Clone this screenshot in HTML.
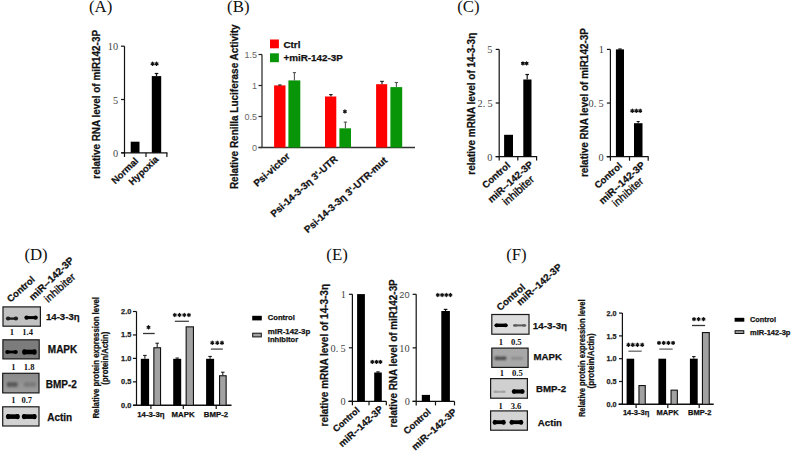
<!DOCTYPE html>
<html><head><meta charset="utf-8"><style>
html,body{margin:0;padding:0;background:#fff;}
svg{display:block;}
</style></head><body>
<svg width="793" height="454" viewBox="0 0 793 454">
<defs><filter id="bl" x="-30%" y="-100%" width="160%" height="300%"><feGaussianBlur stdDeviation="0.7"/></filter><filter id="bl2" x="-30%" y="-100%" width="160%" height="300%"><feGaussianBlur stdDeviation="1.1"/></filter></defs>
<rect width="793" height="454" fill="#fff"/>
<text x="89.0" y="11.9" font-family="Liberation Serif" font-size="16.8" font-weight="normal" fill="#111" text-anchor="start" >(A)</text>
<text x="227.1" y="12.3" font-family="Liberation Serif" font-size="16.8" font-weight="normal" fill="#111" text-anchor="start" >(B)</text>
<text x="457.2" y="11.6" font-family="Liberation Serif" font-size="16.8" font-weight="normal" fill="#111" text-anchor="start" >(C)</text>
<text x="24.4" y="260.0" font-family="Liberation Serif" font-size="16.8" font-weight="normal" fill="#111" text-anchor="start" >(D)</text>
<text x="326.3" y="259.6" font-family="Liberation Serif" font-size="16.8" font-weight="normal" fill="#111" text-anchor="start" >(E)</text>
<text x="506.2" y="260.0" font-family="Liberation Serif" font-size="16.8" font-weight="normal" fill="#111" text-anchor="start" >(F)</text>
<line x1="124.5" y1="46.2" x2="124.5" y2="153.3" stroke="#111" stroke-width="1.2"/>
<line x1="121" y1="46.2" x2="124.5" y2="46.2" stroke="#111" stroke-width="1.2"/>
<line x1="121" y1="99.5" x2="124.5" y2="99.5" stroke="#111" stroke-width="1.2"/>
<line x1="121" y1="152.8" x2="124.5" y2="152.8" stroke="#111" stroke-width="1.2"/>
<line x1="121.4" y1="152.8" x2="167.4" y2="152.8" stroke="#111" stroke-width="1.3"/>
<line x1="124.5" y1="152.8" x2="124.5" y2="157.0" stroke="#111" stroke-width="1.2"/>
<line x1="146" y1="152.8" x2="146" y2="157.0" stroke="#111" stroke-width="1.2"/>
<line x1="166.9" y1="152.8" x2="166.9" y2="157.0" stroke="#111" stroke-width="1.2"/>
<text x="118.15" y="50.1" font-family="Liberation Serif" font-size="10.3" font-weight="normal" fill="#444" text-anchor="end" >10</text>
<text x="118.15" y="103.5" font-family="Liberation Serif" font-size="10.3" font-weight="normal" fill="#444" text-anchor="end" >5</text>
<text x="118.15" y="156.8" font-family="Liberation Serif" font-size="10.3" font-weight="normal" fill="#444" text-anchor="end" >0</text>
<rect x="130.70" y="141.70" width="8.80" height="11.10" fill="#000"/>
<rect x="151.80" y="76.10" width="9.40" height="76.70" fill="#000"/>
<line x1="156.5" y1="76.1" x2="156.5" y2="73.5" stroke="#111" stroke-width="1.2"/>
<line x1="154.7" y1="73.5" x2="158.3" y2="73.5" stroke="#111" stroke-width="1.2"/>
<path d="M152.60,62.22L152.60,65.38M151.24,63.01L153.96,64.59M153.96,63.01L151.24,64.59" stroke="#111" stroke-width="1.26" stroke-linecap="round" fill="none"/>
<path d="M156.60,62.22L156.60,65.38M155.24,63.01L157.96,64.59M157.96,63.01L155.24,64.59" stroke="#111" stroke-width="1.26" stroke-linecap="round" fill="none"/>
<text transform="translate(100.00,104.35) rotate(-90)" x="0" y="0" font-family="Liberation Sans" font-size="10" font-weight="bold" fill="#111" text-anchor="middle" textLength="148.70" lengthAdjust="spacingAndGlyphs" stroke="#111" stroke-width="0.25">relative RNA level of miR142-3P</text>
<text transform="translate(138.96,161.59) rotate(-44)" x="0" y="0" font-family="Liberation Sans" font-size="9.57" font-weight="bold" fill="#111" text-anchor="end" stroke="#111" stroke-width="0.25" >Normal</text>
<text transform="translate(159.20,159.97) rotate(-44)" x="0" y="0" font-family="Liberation Sans" font-size="9.59" font-weight="bold" fill="#111" text-anchor="end" stroke="#111" stroke-width="0.25" >Hypoxia</text>
<line x1="262" y1="54.5" x2="262" y2="148.0" stroke="#222" stroke-width="1.2"/>
<line x1="258.5" y1="147.5" x2="262" y2="147.5" stroke="#222" stroke-width="1.2"/>
<line x1="258.5" y1="116.5" x2="262" y2="116.5" stroke="#222" stroke-width="1.2"/>
<line x1="258.5" y1="85.5" x2="262" y2="85.5" stroke="#222" stroke-width="1.2"/>
<line x1="258.5" y1="54.5" x2="262" y2="54.5" stroke="#222" stroke-width="1.2"/>
<line x1="258.5" y1="147.5" x2="415" y2="147.5" stroke="#333" stroke-width="1.4"/>
<text x="257" y="150.5" font-family="Liberation Sans" font-size="9" font-weight="normal" fill="#666" text-anchor="end" >0</text>
<text x="257" y="119.5" font-family="Liberation Sans" font-size="9" font-weight="normal" fill="#666" text-anchor="end" >0.5</text>
<text x="257" y="88.5" font-family="Liberation Sans" font-size="9" font-weight="normal" fill="#666" text-anchor="end" >1</text>
<text x="257" y="57.5" font-family="Liberation Sans" font-size="9" font-weight="normal" fill="#666" text-anchor="end" >1.5</text>
<rect x="274.10" y="85.40" width="11.40" height="62.10" fill="#ff0000"/>
<line x1="279.9" y1="85.5" x2="279.9" y2="85.0" stroke="#222" stroke-width="1.2"/>
<line x1="278.2" y1="85.0" x2="281.59999999999997" y2="85.0" stroke="#222" stroke-width="1.2"/>
<rect x="288.40" y="80.40" width="11.90" height="67.10" fill="#089608"/>
<line x1="294.4" y1="80.4" x2="294.4" y2="72.6" stroke="#555" stroke-width="1.1"/>
<line x1="292.79999999999995" y1="72.6" x2="296.0" y2="72.6" stroke="#555" stroke-width="1.1"/>
<rect x="325.00" y="96.50" width="11.30" height="51.00" fill="#ff0000"/>
<line x1="330.9" y1="96.5" x2="330.9" y2="94.6" stroke="#222" stroke-width="1.2"/>
<line x1="329.2" y1="94.6" x2="332.59999999999997" y2="94.6" stroke="#222" stroke-width="1.2"/>
<rect x="339.40" y="128.30" width="11.60" height="19.20" fill="#089608"/>
<line x1="345.4" y1="128.3" x2="345.4" y2="122.1" stroke="#555" stroke-width="1.1"/>
<line x1="343.7" y1="122.1" x2="347.09999999999997" y2="122.1" stroke="#555" stroke-width="1.1"/>
<path d="M344.90,109.92L344.90,113.08M343.54,110.71L346.26,112.29M346.26,110.71L343.54,112.29" stroke="#111" stroke-width="1.26" stroke-linecap="round" fill="none"/>
<rect x="376.10" y="84.20" width="11.10" height="63.30" fill="#ff0000"/>
<line x1="382.0" y1="84.2" x2="382.0" y2="81.4" stroke="#222" stroke-width="1.2"/>
<line x1="380.2" y1="81.4" x2="383.8" y2="81.4" stroke="#222" stroke-width="1.2"/>
<rect x="390.40" y="87.10" width="11.80" height="60.40" fill="#089608"/>
<line x1="396.4" y1="87.1" x2="396.4" y2="82.5" stroke="#555" stroke-width="1.1"/>
<line x1="394.7" y1="82.5" x2="398.09999999999997" y2="82.5" stroke="#555" stroke-width="1.1"/>
<rect x="270.00" y="39.50" width="8.90" height="8.80" fill="#ff0000"/>
<rect x="270.00" y="53.30" width="8.90" height="8.90" fill="#089608"/>
<text x="283.4" y="47.8" font-family="Liberation Sans" font-size="9.9" font-weight="bold" fill="#111" text-anchor="start" stroke="#111" stroke-width="0.25" >Ctrl</text>
<text x="283.4" y="61.0" font-family="Liberation Sans" font-size="9.9" font-weight="bold" fill="#111" text-anchor="start" stroke="#111" stroke-width="0.25" >+miR-142-3P</text>
<text transform="translate(237.60,106.75) rotate(-90)" x="0" y="0" font-family="Liberation Sans" font-size="10" font-weight="bold" fill="#111" text-anchor="middle" textLength="164.70" lengthAdjust="spacingAndGlyphs" stroke="#111" stroke-width="0.25">Relative Renilla Luciferase Activity</text>
<text transform="translate(290.60,157.18) rotate(-42)" x="0" y="0" font-family="Liberation Sans" font-size="9.9" font-weight="bold" fill="#111" text-anchor="end" stroke="#111" stroke-width="0.25" >Psi-victor</text>
<text transform="translate(338.24,160.01) rotate(-42)" x="0" y="0" font-family="Liberation Sans" font-size="9.81" font-weight="bold" fill="#111" text-anchor="end" stroke="#111" stroke-width="0.25" >Psi-14-3-3η 3&#39;-UTR</text>
<text transform="translate(388.03,161.35) rotate(-42)" x="0" y="0" font-family="Liberation Sans" font-size="9.85" font-weight="bold" fill="#111" text-anchor="end" stroke="#111" stroke-width="0.25" >Psi-14-3-3η 3&#39;-UTR-mut</text>
<line x1="499.2" y1="49.4" x2="499.2" y2="157.1" stroke="#111" stroke-width="1.2"/>
<line x1="495.7" y1="156.6" x2="499.2" y2="156.6" stroke="#111" stroke-width="1.2"/>
<line x1="495.7" y1="103.0" x2="499.2" y2="103.0" stroke="#111" stroke-width="1.2"/>
<line x1="495.7" y1="49.39999999999999" x2="499.2" y2="49.39999999999999" stroke="#111" stroke-width="1.2"/>
<line x1="495.7" y1="156.6" x2="537.1" y2="156.6" stroke="#111" stroke-width="1.3"/>
<line x1="499.2" y1="156.6" x2="499.2" y2="160.6" stroke="#111" stroke-width="1.2"/>
<line x1="517.8" y1="156.6" x2="517.8" y2="160.6" stroke="#111" stroke-width="1.2"/>
<line x1="536.6" y1="156.6" x2="536.6" y2="160.6" stroke="#111" stroke-width="1.2"/>
<text x="492.45" y="53.4" font-family="Liberation Serif" font-size="10.3" font-weight="normal" fill="#444" text-anchor="end" >5</text>
<text x="480.04999999999995" y="107.05" font-family="Liberation Serif" font-size="10.3" font-weight="normal" fill="#444" text-anchor="middle" >2</text>
<text x="484.0" y="107.05" font-family="Liberation Serif" font-size="10.3" font-weight="normal" fill="#444" text-anchor="middle" >.</text>
<text x="490.05" y="107.05" font-family="Liberation Serif" font-size="10.3" font-weight="normal" fill="#444" text-anchor="middle" >5</text>
<text x="492.45" y="160.6" font-family="Liberation Serif" font-size="10.3" font-weight="normal" fill="#444" text-anchor="end" >0</text>
<rect x="504.10" y="134.80" width="8.90" height="21.80" fill="#000"/>
<rect x="523.30" y="79.50" width="8.20" height="77.10" fill="#000"/>
<line x1="527.2" y1="79.5" x2="527.2" y2="74.5" stroke="#111" stroke-width="1.2"/>
<line x1="525.4000000000001" y1="74.5" x2="529.0" y2="74.5" stroke="#111" stroke-width="1.2"/>
<path d="M522.90,61.82L522.90,64.97M521.54,62.61L524.26,64.19M524.26,62.61L521.54,64.19" stroke="#111" stroke-width="1.26" stroke-linecap="round" fill="none"/>
<path d="M526.60,61.82L526.60,64.97M525.24,62.61L527.96,64.19M527.96,62.61L525.24,64.19" stroke="#111" stroke-width="1.26" stroke-linecap="round" fill="none"/>
<text transform="translate(474.50,103.75) rotate(-90)" x="0" y="0" font-family="Liberation Sans" font-size="10" font-weight="bold" fill="#111" text-anchor="middle" textLength="141.90" lengthAdjust="spacingAndGlyphs" stroke="#111" stroke-width="0.25">relative mRNA level of 14-3-3η</text>
<text transform="translate(510.87,166.27) rotate(-42)" x="0" y="0" font-family="Liberation Sans" font-size="9.56" font-weight="bold" fill="#111" text-anchor="end" stroke="#111" stroke-width="0.25" >Control</text>
<text transform="translate(533.83,165.22) rotate(-42)" x="0" y="0" font-family="Liberation Sans" font-size="9.87" font-weight="bold" fill="#111" text-anchor="end" stroke="#111" stroke-width="0.25" >miR--142-3P</text>
<text transform="translate(534.92,180.36) rotate(-42)" x="0" y="0" font-family="Liberation Sans" font-size="10.89" font-weight="normal" fill="#111" text-anchor="end" stroke="#111" stroke-width="0.35" >inhibiter</text>
<line x1="610.4" y1="49.4" x2="610.4" y2="157.2" stroke="#111" stroke-width="1.2"/>
<line x1="606.9" y1="156.7" x2="610.4" y2="156.7" stroke="#111" stroke-width="1.2"/>
<line x1="606.9" y1="103.05" x2="610.4" y2="103.05" stroke="#111" stroke-width="1.2"/>
<line x1="606.9" y1="49.400000000000006" x2="610.4" y2="49.400000000000006" stroke="#111" stroke-width="1.2"/>
<line x1="606.7" y1="156.7" x2="648.6" y2="156.7" stroke="#111" stroke-width="1.2"/>
<line x1="610.4" y1="156.7" x2="610.4" y2="160.7" stroke="#111" stroke-width="1.2"/>
<line x1="629.5" y1="156.7" x2="629.5" y2="160.7" stroke="#111" stroke-width="1.2"/>
<line x1="648.2" y1="156.7" x2="648.2" y2="160.7" stroke="#111" stroke-width="1.2"/>
<text x="603.9" y="53.4" font-family="Liberation Serif" font-size="10.3" font-weight="normal" fill="#444" text-anchor="end" >1</text>
<text x="591.15" y="107.1" font-family="Liberation Serif" font-size="10.3" font-weight="normal" fill="#444" text-anchor="middle" >0</text>
<text x="595.1" y="107.1" font-family="Liberation Serif" font-size="10.3" font-weight="normal" fill="#444" text-anchor="middle" >.</text>
<text x="601.15" y="107.1" font-family="Liberation Serif" font-size="10.3" font-weight="normal" fill="#444" text-anchor="middle" >5</text>
<text x="603.55" y="160.7" font-family="Liberation Serif" font-size="10.3" font-weight="normal" fill="#444" text-anchor="end" >0</text>
<rect x="615.90" y="49.40" width="8.10" height="107.30" fill="#000"/>
<line x1="620" y1="49.6" x2="620" y2="49.0" stroke="#111" stroke-width="1.2"/>
<line x1="618.3" y1="49.0" x2="621.7" y2="49.0" stroke="#111" stroke-width="1.2"/>
<rect x="634.00" y="123.20" width="8.50" height="33.50" fill="#000"/>
<line x1="638.2" y1="123.2" x2="638.2" y2="121.5" stroke="#111" stroke-width="1"/>
<line x1="636.7" y1="121.5" x2="639.7" y2="121.5" stroke="#111" stroke-width="1"/>
<path d="M632.30,109.22L632.30,112.38M630.94,110.01L633.66,111.59M633.66,110.01L630.94,111.59" stroke="#111" stroke-width="1.26" stroke-linecap="round" fill="none"/>
<path d="M636.30,109.22L636.30,112.38M634.94,110.01L637.66,111.59M637.66,110.01L634.94,111.59" stroke="#111" stroke-width="1.26" stroke-linecap="round" fill="none"/>
<path d="M640.20,109.22L640.20,112.38M638.84,110.01L641.56,111.59M641.56,110.01L638.84,111.59" stroke="#111" stroke-width="1.26" stroke-linecap="round" fill="none"/>
<text transform="translate(587.60,102.60) rotate(-90)" x="0" y="0" font-family="Liberation Sans" font-size="10" font-weight="bold" fill="#111" text-anchor="middle" textLength="148.80" lengthAdjust="spacingAndGlyphs" stroke="#111" stroke-width="0.25">relative RNA level of miR142-3P</text>
<text transform="translate(622.77,166.61) rotate(-42)" x="0" y="0" font-family="Liberation Sans" font-size="9.4" font-weight="bold" fill="#111" text-anchor="end" stroke="#111" stroke-width="0.25" >Control</text>
<text transform="translate(645.66,165.96) rotate(-42)" x="0" y="0" font-family="Liberation Sans" font-size="10.02" font-weight="bold" fill="#111" text-anchor="end" stroke="#111" stroke-width="0.25" >miR--142-3P</text>
<text transform="translate(644.11,182.24) rotate(-42)" x="0" y="0" font-family="Liberation Sans" font-size="10.66" font-weight="normal" fill="#111" text-anchor="end" stroke="#111" stroke-width="0.35" >inhibiter</text>
<line x1="352.4" y1="294.3" x2="352.4" y2="401.8" stroke="#111" stroke-width="1.2"/>
<line x1="348.9" y1="401.3" x2="352.4" y2="401.3" stroke="#111" stroke-width="1.2"/>
<line x1="348.9" y1="347.8" x2="352.4" y2="347.8" stroke="#111" stroke-width="1.2"/>
<line x1="348.9" y1="294.3" x2="352.4" y2="294.3" stroke="#111" stroke-width="1.2"/>
<line x1="348.3" y1="401.3" x2="386.3" y2="401.3" stroke="#111" stroke-width="1.2"/>
<line x1="352.4" y1="401.3" x2="352.4" y2="405.3" stroke="#111" stroke-width="1.2"/>
<line x1="369" y1="401.3" x2="369" y2="405.3" stroke="#111" stroke-width="1.2"/>
<line x1="386.3" y1="401.3" x2="386.3" y2="405.3" stroke="#111" stroke-width="1.2"/>
<text x="345.9" y="298.3" font-family="Liberation Serif" font-size="10.3" font-weight="normal" fill="#444" text-anchor="end" >1</text>
<text x="333.15" y="351.6" font-family="Liberation Serif" font-size="10.3" font-weight="normal" fill="#444" text-anchor="middle" >0</text>
<text x="337.1" y="351.6" font-family="Liberation Serif" font-size="10.3" font-weight="normal" fill="#444" text-anchor="middle" >.</text>
<text x="343.15000000000003" y="351.6" font-family="Liberation Serif" font-size="10.3" font-weight="normal" fill="#444" text-anchor="middle" >5</text>
<text x="345.65" y="405.3" font-family="Liberation Serif" font-size="10.3" font-weight="normal" fill="#444" text-anchor="end" >0</text>
<rect x="357.10" y="294.10" width="7.80" height="107.20" fill="#000"/>
<rect x="374.20" y="372.50" width="7.60" height="28.80" fill="#000"/>
<line x1="378" y1="372.6" x2="378" y2="371.9" stroke="#111" stroke-width="1.2"/>
<line x1="376.3" y1="371.9" x2="379.7" y2="371.9" stroke="#111" stroke-width="1.2"/>
<path d="M372.30,360.32L372.30,363.47M370.94,361.11L373.66,362.69M373.66,361.11L370.94,362.69" stroke="#111" stroke-width="1.26" stroke-linecap="round" fill="none"/>
<path d="M376.50,360.32L376.50,363.47M375.14,361.11L377.86,362.69M377.86,361.11L375.14,362.69" stroke="#111" stroke-width="1.26" stroke-linecap="round" fill="none"/>
<path d="M380.40,360.32L380.40,363.47M379.04,361.11L381.76,362.69M381.76,361.11L379.04,362.69" stroke="#111" stroke-width="1.26" stroke-linecap="round" fill="none"/>
<text transform="translate(328.10,355.25) rotate(-90)" x="0" y="0" font-family="Liberation Sans" font-size="10" font-weight="bold" fill="#111" text-anchor="middle" textLength="142.50" lengthAdjust="spacingAndGlyphs" stroke="#111" stroke-width="0.25">relative mRNA level of 14-3-3η</text>
<text transform="translate(360.27,411.06) rotate(-42)" x="0" y="0" font-family="Liberation Sans" font-size="9.05" font-weight="bold" fill="#111" text-anchor="end" stroke="#111" stroke-width="0.25" >Control</text>
<text transform="translate(383.85,410.02) rotate(-42)" x="0" y="0" font-family="Liberation Sans" font-size="9.69" font-weight="bold" fill="#111" text-anchor="end" stroke="#111" stroke-width="0.25" >miR--142-3P</text>
<line x1="416.2" y1="294.3" x2="416.2" y2="401.9" stroke="#111" stroke-width="1.2"/>
<line x1="412.59999999999997" y1="401.4" x2="416.2" y2="401.4" stroke="#111" stroke-width="1.2"/>
<line x1="412.59999999999997" y1="347.85" x2="416.2" y2="347.85" stroke="#111" stroke-width="1.2"/>
<line x1="412.59999999999997" y1="294.3" x2="416.2" y2="294.3" stroke="#111" stroke-width="1.2"/>
<line x1="412.59999999999997" y1="401.4" x2="454.5" y2="401.4" stroke="#111" stroke-width="1.3"/>
<line x1="416.2" y1="401.4" x2="416.2" y2="405.4" stroke="#111" stroke-width="1.2"/>
<line x1="435.5" y1="401.4" x2="435.5" y2="405.4" stroke="#111" stroke-width="1.2"/>
<line x1="454.5" y1="401.4" x2="454.5" y2="405.4" stroke="#111" stroke-width="1.2"/>
<text x="409.6" y="297.5" font-family="Liberation Sans" font-size="9.2" font-weight="normal" fill="#4a4a4a" text-anchor="end" >20</text>
<text x="409.55" y="351.6" font-family="Liberation Serif" font-size="10.3" font-weight="normal" fill="#444" text-anchor="end" >10</text>
<text x="409.85" y="405.4" font-family="Liberation Serif" font-size="10.3" font-weight="normal" fill="#444" text-anchor="end" >0</text>
<rect x="421.80" y="394.90" width="8.20" height="6.50" fill="#000"/>
<rect x="441.30" y="311.00" width="8.60" height="90.40" fill="#000"/>
<line x1="445.6" y1="311.0" x2="445.6" y2="309.4" stroke="#111" stroke-width="1.2"/>
<line x1="443.8" y1="309.4" x2="447.40000000000003" y2="309.4" stroke="#111" stroke-width="1.2"/>
<path d="M437.80,293.43L437.80,296.57M436.44,294.21L439.16,295.79M439.16,294.21L436.44,295.79" stroke="#111" stroke-width="1.26" stroke-linecap="round" fill="none"/>
<path d="M442.10,293.43L442.10,296.57M440.74,294.21L443.46,295.79M443.46,294.21L440.74,295.79" stroke="#111" stroke-width="1.26" stroke-linecap="round" fill="none"/>
<path d="M446.30,293.43L446.30,296.57M444.94,294.21L447.66,295.79M447.66,294.21L444.94,295.79" stroke="#111" stroke-width="1.26" stroke-linecap="round" fill="none"/>
<path d="M450.40,293.43L450.40,296.57M449.04,294.21L451.76,295.79M451.76,294.21L449.04,295.79" stroke="#111" stroke-width="1.26" stroke-linecap="round" fill="none"/>
<text transform="translate(397.20,353.45) rotate(-90)" x="0" y="0" font-family="Liberation Sans" font-size="10" font-weight="bold" fill="#111" text-anchor="middle" textLength="148.30" lengthAdjust="spacingAndGlyphs" stroke="#111" stroke-width="0.25">relative RNA level of miR142-3P</text>
<text transform="translate(431.41,412.78) rotate(-42)" x="0" y="0" font-family="Liberation Sans" font-size="9.26" font-weight="bold" fill="#111" text-anchor="end" stroke="#111" stroke-width="0.25" >Control</text>
<text transform="translate(457.38,412.86) rotate(-42)" x="0" y="0" font-family="Liberation Sans" font-size="9.79" font-weight="bold" fill="#111" text-anchor="end" stroke="#111" stroke-width="0.25" >miR--142-3P</text>
<line x1="136.5" y1="311.49999999999994" x2="136.5" y2="405.8" stroke="#111" stroke-width="1.2"/>
<line x1="132.9" y1="405.3" x2="136.5" y2="405.3" stroke="#111" stroke-width="1.2"/>
<text x="131.3" y="407.5" font-family="Liberation Sans" font-size="7.4" font-weight="bold" fill="#222" text-anchor="end" stroke="#222" stroke-width="0.25" >0.0</text>
<line x1="132.9" y1="381.85" x2="136.5" y2="381.85" stroke="#111" stroke-width="1.2"/>
<text x="131.3" y="384.05" font-family="Liberation Sans" font-size="7.4" font-weight="bold" fill="#222" text-anchor="end" stroke="#222" stroke-width="0.25" >0.5</text>
<line x1="132.9" y1="358.4" x2="136.5" y2="358.4" stroke="#111" stroke-width="1.2"/>
<text x="131.3" y="360.59999999999997" font-family="Liberation Sans" font-size="7.4" font-weight="bold" fill="#222" text-anchor="end" stroke="#222" stroke-width="0.25" >1.0</text>
<line x1="132.9" y1="334.94999999999993" x2="136.5" y2="334.94999999999993" stroke="#111" stroke-width="1.2"/>
<text x="131.3" y="337.1499999999999" font-family="Liberation Sans" font-size="7.4" font-weight="bold" fill="#222" text-anchor="end" stroke="#222" stroke-width="0.25" >1.5</text>
<line x1="132.9" y1="311.49999999999994" x2="136.5" y2="311.49999999999994" stroke="#111" stroke-width="1.2"/>
<text x="131.3" y="313.69999999999993" font-family="Liberation Sans" font-size="7.4" font-weight="bold" fill="#222" text-anchor="end" stroke="#222" stroke-width="0.25" >2.0</text>
<line x1="133.1" y1="405.3" x2="231.5" y2="405.3" stroke="#111" stroke-width="1.5"/>
<line x1="150.9" y1="405.3" x2="150.9" y2="409.1" stroke="#111" stroke-width="1.2"/>
<line x1="183.3" y1="405.3" x2="183.3" y2="409.1" stroke="#111" stroke-width="1.2"/>
<line x1="216.2" y1="405.3" x2="216.2" y2="409.1" stroke="#111" stroke-width="1.2"/>
<rect x="140.80" y="358.80" width="8.30" height="46.50" fill="#000"/>
<line x1="144.9" y1="358.8" x2="144.9" y2="355.4" stroke="#111" stroke-width="1"/>
<line x1="143.1" y1="355.4" x2="146.70000000000002" y2="355.4" stroke="#111" stroke-width="1"/>
<rect x="153.85" y="347.75" width="6.70" height="57.55" fill="#a2a2a2" stroke="#111" stroke-width="1.1"/>
<line x1="157.2" y1="347.2" x2="157.2" y2="343.2" stroke="#111" stroke-width="1"/>
<line x1="155.45" y1="343.2" x2="158.95" y2="343.2" stroke="#111" stroke-width="1"/>
<line x1="143" y1="333.5" x2="154.7" y2="333.5" stroke="#333" stroke-width="1.3"/>
<path d="M148.50,325.73L148.50,328.88M147.14,326.51L149.86,328.09M149.86,326.51L147.14,328.09" stroke="#111" stroke-width="1.26" stroke-linecap="round" fill="none"/>
<rect x="173.20" y="358.80" width="8.00" height="46.50" fill="#000"/>
<line x1="177.2" y1="358.8" x2="177.2" y2="358.0" stroke="#111" stroke-width="1"/>
<line x1="175.5" y1="358.0" x2="178.89999999999998" y2="358.0" stroke="#111" stroke-width="1"/>
<rect x="186.15" y="326.85" width="7.30" height="78.45" fill="#a2a2a2" stroke="#111" stroke-width="1.1"/>
<line x1="174.8" y1="321.3" x2="188.9" y2="321.3" stroke="#444" stroke-width="1.3"/>
<path d="M174.80,313.43L174.80,316.57M173.44,314.21L176.16,315.79M176.16,314.21L173.44,315.79" stroke="#111" stroke-width="1.26" stroke-linecap="round" fill="none"/>
<path d="M179.50,313.43L179.50,316.57M178.14,314.21L180.86,315.79M180.86,314.21L178.14,315.79" stroke="#111" stroke-width="1.26" stroke-linecap="round" fill="none"/>
<path d="M184.30,313.43L184.30,316.57M182.94,314.21L185.66,315.79M185.66,314.21L182.94,315.79" stroke="#111" stroke-width="1.26" stroke-linecap="round" fill="none"/>
<path d="M188.90,313.43L188.90,316.57M187.54,314.21L190.26,315.79M190.26,314.21L187.54,315.79" stroke="#111" stroke-width="1.26" stroke-linecap="round" fill="none"/>
<rect x="206.10" y="358.80" width="8.00" height="46.50" fill="#000"/>
<line x1="210.1" y1="358.8" x2="210.1" y2="356.4" stroke="#111" stroke-width="1"/>
<line x1="208.29999999999998" y1="356.4" x2="211.9" y2="356.4" stroke="#111" stroke-width="1"/>
<rect x="219.55" y="375.75" width="6.60" height="29.55" fill="#a2a2a2" stroke="#111" stroke-width="1.1"/>
<line x1="222.8" y1="375.2" x2="222.8" y2="372.2" stroke="#111" stroke-width="1"/>
<line x1="221.05" y1="372.2" x2="224.55" y2="372.2" stroke="#111" stroke-width="1"/>
<line x1="210.9" y1="349.1" x2="222.8" y2="349.1" stroke="#555" stroke-width="1.4"/>
<path d="M212.30,341.23L212.30,344.38M210.94,342.01L213.66,343.59M213.66,342.01L210.94,343.59" stroke="#111" stroke-width="1.26" stroke-linecap="round" fill="none"/>
<path d="M217.30,341.23L217.30,344.38M215.94,342.01L218.66,343.59M218.66,342.01L215.94,343.59" stroke="#111" stroke-width="1.26" stroke-linecap="round" fill="none"/>
<path d="M222.00,341.23L222.00,344.38M220.64,342.01L223.36,343.59M223.36,342.01L220.64,343.59" stroke="#111" stroke-width="1.26" stroke-linecap="round" fill="none"/>
<text x="150.9" y="417.3" font-family="Liberation Sans" font-size="7.8" font-weight="bold" fill="#111" text-anchor="middle" stroke="#111" stroke-width="0.25" >14-3-3η</text>
<text x="183.1" y="417.3" font-family="Liberation Sans" font-size="7.8" font-weight="bold" fill="#111" text-anchor="middle" stroke="#111" stroke-width="0.25" >MAPK</text>
<text x="216.0" y="417.3" font-family="Liberation Sans" font-size="7.8" font-weight="bold" fill="#111" text-anchor="middle" stroke="#111" stroke-width="0.25" >BMP-2</text>
<text transform="translate(99.00,357.80) rotate(-90)" x="0" y="0" font-family="Liberation Sans" font-size="8.6" font-weight="bold" fill="#111" text-anchor="middle" textLength="121.60" lengthAdjust="spacingAndGlyphs" stroke="#111" stroke-width="0.25">Relative protein expression level</text>
<text transform="translate(108.40,358.20) rotate(-90)" x="0" y="0" font-family="Liberation Sans" font-size="8.4" font-weight="bold" fill="#111" text-anchor="middle" textLength="53.00" lengthAdjust="spacingAndGlyphs" stroke="#111" stroke-width="0.25">(protein/Actin)</text>
<rect x="252.20" y="315.80" width="9.60" height="4.60" fill="#000"/>
<rect x="252.70" y="333.20" width="8.60" height="3.70" fill="#a2a2a2" stroke="#111" stroke-width="1"/>
<text x="267.8" y="319.9" font-family="Liberation Sans" font-size="7.6" font-weight="bold" fill="#111" text-anchor="start" stroke="#111" stroke-width="0.25" >Control</text>
<text x="267.8" y="333.6" font-family="Liberation Sans" font-size="7.9" font-weight="bold" fill="#111" text-anchor="start" stroke="#111" stroke-width="0.25" >miR-142-3p</text>
<text x="267.8" y="342.4" font-family="Liberation Sans" font-size="7.6" font-weight="bold" fill="#111" text-anchor="start" stroke="#111" stroke-width="0.25" >inhibitor</text>
<line x1="622.4" y1="313.09999999999997" x2="622.4" y2="404.8" stroke="#111" stroke-width="1.2"/>
<line x1="619.0" y1="404.3" x2="622.4" y2="404.3" stroke="#111" stroke-width="1.2"/>
<text x="616.6" y="406.90000000000003" font-family="Liberation Sans" font-size="7.2" font-weight="bold" fill="#222" text-anchor="end" stroke="#222" stroke-width="0.25" >0.0</text>
<line x1="619.0" y1="381.5" x2="622.4" y2="381.5" stroke="#111" stroke-width="1.2"/>
<text x="616.6" y="384.1" font-family="Liberation Sans" font-size="7.2" font-weight="bold" fill="#222" text-anchor="end" stroke="#222" stroke-width="0.25" >0.5</text>
<line x1="619.0" y1="358.7" x2="622.4" y2="358.7" stroke="#111" stroke-width="1.2"/>
<text x="616.6" y="361.3" font-family="Liberation Sans" font-size="7.2" font-weight="bold" fill="#222" text-anchor="end" stroke="#222" stroke-width="0.25" >1.0</text>
<line x1="619.0" y1="335.9" x2="622.4" y2="335.9" stroke="#111" stroke-width="1.2"/>
<text x="616.6" y="338.5" font-family="Liberation Sans" font-size="7.2" font-weight="bold" fill="#222" text-anchor="end" stroke="#222" stroke-width="0.25" >1.5</text>
<line x1="619.0" y1="313.09999999999997" x2="622.4" y2="313.09999999999997" stroke="#111" stroke-width="1.2"/>
<text x="616.6" y="315.7" font-family="Liberation Sans" font-size="7.2" font-weight="bold" fill="#222" text-anchor="end" stroke="#222" stroke-width="0.25" >2.0</text>
<line x1="618.5" y1="404.3" x2="713.7" y2="404.3" stroke="#111" stroke-width="1.5"/>
<line x1="636.1" y1="404.3" x2="636.1" y2="407.90000000000003" stroke="#111" stroke-width="1.2"/>
<line x1="667.8" y1="404.3" x2="667.8" y2="407.90000000000003" stroke="#111" stroke-width="1.2"/>
<line x1="699.2" y1="404.3" x2="699.2" y2="407.90000000000003" stroke="#111" stroke-width="1.2"/>
<rect x="626.60" y="358.70" width="7.60" height="45.60" fill="#000"/>
<rect x="638.95" y="385.55" width="6.30" height="18.75" fill="#a2a2a2" stroke="#111" stroke-width="1.1"/>
<line x1="628.4" y1="351.2" x2="641.7" y2="351.2" stroke="#666" stroke-width="1.3"/>
<path d="M628.40,343.23L628.40,346.38M627.04,344.01L629.76,345.59M629.76,344.01L627.04,345.59" stroke="#111" stroke-width="1.26" stroke-linecap="round" fill="none"/>
<path d="M632.80,343.23L632.80,346.38M631.44,344.01L634.16,345.59M634.16,344.01L631.44,345.59" stroke="#111" stroke-width="1.26" stroke-linecap="round" fill="none"/>
<path d="M637.40,343.23L637.40,346.38M636.04,344.01L638.76,345.59M638.76,344.01L636.04,345.59" stroke="#111" stroke-width="1.26" stroke-linecap="round" fill="none"/>
<path d="M642.20,343.23L642.20,346.38M640.84,344.01L643.56,345.59M643.56,344.01L640.84,345.59" stroke="#111" stroke-width="1.26" stroke-linecap="round" fill="none"/>
<rect x="658.40" y="358.70" width="7.70" height="45.60" fill="#000"/>
<rect x="671.05" y="390.15" width="6.30" height="14.15" fill="#a2a2a2" stroke="#111" stroke-width="1.1"/>
<line x1="659.3" y1="349.1" x2="672.7" y2="349.1" stroke="#666" stroke-width="1.3"/>
<path d="M659.00,341.32L659.00,344.47M657.64,342.11L660.36,343.69M660.36,342.11L657.64,343.69" stroke="#111" stroke-width="1.26" stroke-linecap="round" fill="none"/>
<path d="M663.70,341.32L663.70,344.47M662.34,342.11L665.06,343.69M665.06,342.11L662.34,343.69" stroke="#111" stroke-width="1.26" stroke-linecap="round" fill="none"/>
<path d="M668.40,341.32L668.40,344.47M667.04,342.11L669.76,343.69M669.76,342.11L667.04,343.69" stroke="#111" stroke-width="1.26" stroke-linecap="round" fill="none"/>
<path d="M673.10,341.32L673.10,344.47M671.74,342.11L674.46,343.69M674.46,342.11L671.74,343.69" stroke="#111" stroke-width="1.26" stroke-linecap="round" fill="none"/>
<rect x="689.90" y="358.70" width="7.80" height="45.60" fill="#000"/>
<line x1="693.8" y1="358.7" x2="693.8" y2="356.6" stroke="#111" stroke-width="1"/>
<line x1="692.05" y1="356.6" x2="695.55" y2="356.6" stroke="#111" stroke-width="1"/>
<rect x="702.45" y="332.55" width="6.80" height="71.75" fill="#a2a2a2" stroke="#111" stroke-width="1.1"/>
<line x1="692" y1="325.5" x2="705.1" y2="325.5" stroke="#333" stroke-width="1.3"/>
<path d="M694.00,317.53L694.00,320.68M692.64,318.31L695.36,319.89M695.36,318.31L692.64,319.89" stroke="#111" stroke-width="1.26" stroke-linecap="round" fill="none"/>
<path d="M698.60,317.53L698.60,320.68M697.24,318.31L699.96,319.89M699.96,318.31L697.24,319.89" stroke="#111" stroke-width="1.26" stroke-linecap="round" fill="none"/>
<path d="M703.50,317.53L703.50,320.68M702.14,318.31L704.86,319.89M704.86,318.31L702.14,319.89" stroke="#111" stroke-width="1.26" stroke-linecap="round" fill="none"/>
<text x="636.1" y="415.1" font-family="Liberation Sans" font-size="7.5" font-weight="bold" fill="#111" text-anchor="middle" stroke="#111" stroke-width="0.25" >14-3-3η</text>
<text x="667.6" y="415.1" font-family="Liberation Sans" font-size="7.5" font-weight="bold" fill="#111" text-anchor="middle" stroke="#111" stroke-width="0.25" >MAPK</text>
<text x="699.7" y="415.1" font-family="Liberation Sans" font-size="7.5" font-weight="bold" fill="#111" text-anchor="middle" stroke="#111" stroke-width="0.25" >BMP-2</text>
<text transform="translate(585.40,358.30) rotate(-90)" x="0" y="0" font-family="Liberation Sans" font-size="8.4" font-weight="bold" fill="#111" text-anchor="middle" textLength="117.60" lengthAdjust="spacingAndGlyphs" stroke="#111" stroke-width="0.25">Relative protein expression level</text>
<text transform="translate(593.90,360.90) rotate(-90)" x="0" y="0" font-family="Liberation Sans" font-size="8.4" font-weight="bold" fill="#111" text-anchor="middle" textLength="55.20" lengthAdjust="spacingAndGlyphs" stroke="#111" stroke-width="0.25">(protein/Actin)</text>
<rect x="734.60" y="317.80" width="9.70" height="3.90" fill="#000"/>
<rect x="735.10" y="330.70" width="8.70" height="2.80" fill="#a2a2a2" stroke="#111" stroke-width="1"/>
<text x="750.1" y="321.6" font-family="Liberation Sans" font-size="7.3" font-weight="bold" fill="#111" text-anchor="start" stroke="#111" stroke-width="0.25" >Control</text>
<text x="750.0" y="334.6" font-family="Liberation Sans" font-size="7.5" font-weight="bold" fill="#111" text-anchor="start" stroke="#111" stroke-width="0.25" >miR-142-3p</text>
<rect x="3.00" y="306.90" width="37.40" height="19.30" fill="#c2c2c2" stroke="#1a1a1a" stroke-width="1.2"/>
<g opacity="0.9" filter="url(#bl)" fill="#111"><rect x="7.22" y="317.40" width="9.56" height="2.40"/><ellipse cx="8.10" cy="318.6" rx="2.20" ry="2.00"/><ellipse cx="15.90" cy="318.6" rx="2.20" ry="2.00"/></g>
<g opacity="1" filter="url(#bl)" fill="#000"><rect x="25.72" y="316.10" width="10.76" height="3.00"/><ellipse cx="26.60" cy="317.6" rx="2.20" ry="2.20"/><ellipse cx="35.60" cy="317.6" rx="2.20" ry="2.20"/></g>
<text x="46" y="320.05" font-family="Liberation Sans" font-size="9.6" font-weight="bold" fill="#111" text-anchor="start" stroke="#111" stroke-width="0.25" >14-3-3η</text>
<text x="11.8" y="334.6" font-family="Liberation Serif" font-size="8.6" font-weight="bold" fill="#111" text-anchor="middle" >1</text>
<text x="27.6" y="334.6" font-family="Liberation Serif" font-size="8.6" font-weight="bold" fill="#111" text-anchor="middle" >1.4</text>
<rect x="2.90" y="339.80" width="36.30" height="19.10" fill="#7c7c7c" stroke="#1a1a1a" stroke-width="1.2"/>
<g opacity="1" filter="url(#bl)" fill="#000"><rect x="6.52" y="350.60" width="9.96" height="2.80"/><ellipse cx="7.40" cy="352.0" rx="2.20" ry="1.90"/><ellipse cx="15.60" cy="352.0" rx="2.20" ry="1.90"/></g>
<g opacity="1" filter="url(#bl)" fill="#000"><rect x="23.42" y="349.70" width="11.96" height="4.60"/><ellipse cx="24.30" cy="352.0" rx="2.20" ry="2.70"/><ellipse cx="34.50" cy="352.0" rx="2.20" ry="2.70"/></g>
<text x="47.8" y="353.15" font-family="Liberation Sans" font-size="10" font-weight="bold" fill="#111" text-anchor="start" stroke="#111" stroke-width="0.25" >MAPK</text>
<text x="13.5" y="369.5" font-family="Liberation Serif" font-size="8.6" font-weight="bold" fill="#111" text-anchor="middle" >1</text>
<text x="29.1" y="369.5" font-family="Liberation Serif" font-size="8.6" font-weight="bold" fill="#111" text-anchor="middle" >1.8</text>
<defs><linearGradient id="g267" x1="0" y1="0" x2="0" y2="1"><stop offset="0" stop-color="#8a8a8a"/><stop offset="1" stop-color="#9c9c9c"/></linearGradient></defs>
<rect x="2.70" y="373.30" width="36.30" height="19.60" fill="url(#g267)" stroke="#1a1a1a" stroke-width="1.2"/>
<g opacity="0.75" filter="url(#bl2)" fill="#444"><rect x="7.92" y="382.25" width="8.56" height="4.50"/><ellipse cx="8.80" cy="384.5" rx="2.20" ry="2.50"/><ellipse cx="15.60" cy="384.5" rx="2.20" ry="2.50"/></g>
<g opacity="0.55" filter="url(#bl2)" fill="#666"><rect x="25.12" y="382.25" width="9.86" height="4.50"/><ellipse cx="26.00" cy="384.5" rx="2.20" ry="2.50"/><ellipse cx="34.10" cy="384.5" rx="2.20" ry="2.50"/></g>
<text x="45.8" y="388.1" font-family="Liberation Sans" font-size="10" font-weight="bold" fill="#111" text-anchor="start" stroke="#111" stroke-width="0.25" >BMP-2</text>
<text x="13.5" y="402.8" font-family="Liberation Serif" font-size="8.6" font-weight="bold" fill="#111" text-anchor="middle" >1</text>
<text x="26.8" y="402.8" font-family="Liberation Serif" font-size="8.6" font-weight="bold" fill="#111" text-anchor="middle" >0.7</text>
<rect x="2.70" y="406.80" width="36.30" height="19.20" fill="#d2d2d2" stroke="#1a1a1a" stroke-width="1.2"/>
<g opacity="1" filter="url(#bl)" fill="#000"><rect x="7.22" y="414.30" width="11.26" height="4.60"/><ellipse cx="8.10" cy="416.6" rx="2.20" ry="2.70"/><ellipse cx="17.60" cy="416.6" rx="2.20" ry="2.70"/></g>
<g opacity="1" filter="url(#bl)" fill="#000"><rect x="23.12" y="414.30" width="12.26" height="4.60"/><ellipse cx="24.00" cy="416.6" rx="2.20" ry="2.70"/><ellipse cx="34.50" cy="416.6" rx="2.20" ry="2.70"/></g>
<text x="47.2" y="421.3" font-family="Liberation Sans" font-size="10" font-weight="bold" fill="#111" text-anchor="start" stroke="#111" stroke-width="0.25" >Actin</text>
<text transform="translate(35.41,280.34) rotate(-42)" x="0" y="0" font-family="Liberation Sans" font-size="9.42" font-weight="bold" fill="#111" text-anchor="end" stroke="#111" stroke-width="0.25" >Control</text>
<text transform="translate(74.55,261.03) rotate(-44)" x="0" y="0" font-family="Liberation Sans" font-size="9.98" font-weight="bold" fill="#111" text-anchor="end" stroke="#111" stroke-width="0.25" >miR--142-3P</text>
<text transform="translate(76.07,277.85) rotate(-42)" x="0" y="0" font-family="Liberation Sans" font-size="10.7" font-weight="normal" fill="#111" text-anchor="end" stroke="#111" stroke-width="0.35" >inhibiter</text>
<rect x="491.80" y="314.50" width="37.20" height="19.70" fill="#dcdcdc" stroke="#1a1a1a" stroke-width="1.2"/>
<g opacity="1" filter="url(#bl)" fill="#000"><rect x="495.72" y="323.60" width="10.76" height="3.40"/><ellipse cx="496.60" cy="325.3" rx="2.20" ry="1.90"/><ellipse cx="505.60" cy="325.3" rx="2.20" ry="1.90"/></g>
<g opacity="0.85" filter="url(#bl)" fill="#444"><rect x="514.22" y="324.40" width="10.86" height="2.00"/><ellipse cx="515.10" cy="325.4" rx="2.20" ry="1.20"/><ellipse cx="524.20" cy="325.4" rx="2.20" ry="1.20"/></g>
<text x="532.8" y="329.2" font-family="Liberation Sans" font-size="9.8" font-weight="bold" fill="#111" text-anchor="start" stroke="#111" stroke-width="0.25" >14-3-3η</text>
<text x="500.8" y="344.9" font-family="Liberation Serif" font-size="8.6" font-weight="bold" fill="#111" text-anchor="middle" >1</text>
<text x="516.3" y="344.9" font-family="Liberation Serif" font-size="8.6" font-weight="bold" fill="#111" text-anchor="middle" >0.5</text>
<rect x="491.80" y="348.10" width="36.30" height="19.30" fill="#a8a8a8" stroke="#1a1a1a" stroke-width="1.2"/>
<g opacity="0.85" filter="url(#bl2)" fill="#333"><rect x="495.72" y="356.80" width="9.46" height="3.00"/><ellipse cx="496.60" cy="358.3" rx="2.20" ry="1.80"/><ellipse cx="504.30" cy="358.3" rx="2.20" ry="1.80"/></g>
<g opacity="0.6" filter="url(#bl2)" fill="#777"><rect x="512.32" y="357.10" width="9.56" height="2.40"/><ellipse cx="513.20" cy="358.3" rx="2.20" ry="1.50"/><ellipse cx="521.00" cy="358.3" rx="2.20" ry="1.50"/></g>
<text x="533.5" y="360.2" font-family="Liberation Sans" font-size="9.7" font-weight="bold" fill="#111" text-anchor="start" stroke="#111" stroke-width="0.25" >MAPK</text>
<text x="501.9" y="375.9" font-family="Liberation Serif" font-size="8.6" font-weight="bold" fill="#111" text-anchor="middle" >1</text>
<text x="517.4" y="375.9" font-family="Liberation Serif" font-size="8.6" font-weight="bold" fill="#111" text-anchor="middle" >0.5</text>
<rect x="490.60" y="378.60" width="36.80" height="19.60" fill="#d0d0d0" stroke="#1a1a1a" stroke-width="1.2"/>
<g opacity="0.6" filter="url(#bl)" fill="#888"><rect x="494.62" y="390.80" width="9.86" height="2.00"/><ellipse cx="495.50" cy="391.8" rx="2.20" ry="1.25"/><ellipse cx="503.60" cy="391.8" rx="2.20" ry="1.25"/></g>
<g opacity="1" filter="url(#bl)" fill="#000"><rect x="513.12" y="389.50" width="10.16" height="4.00"/><ellipse cx="514.00" cy="391.5" rx="2.20" ry="2.30"/><ellipse cx="522.40" cy="391.5" rx="2.20" ry="2.30"/></g>
<text x="535.9" y="391.5" font-family="Liberation Sans" font-size="9.7" font-weight="bold" fill="#111" text-anchor="start" stroke="#111" stroke-width="0.25" >BMP-2</text>
<text x="500.7" y="408.7" font-family="Liberation Serif" font-size="8.6" font-weight="bold" fill="#111" text-anchor="middle" >1</text>
<text x="516.0" y="408.7" font-family="Liberation Serif" font-size="8.6" font-weight="bold" fill="#111" text-anchor="middle" >3.6</text>
<rect x="490.60" y="410.90" width="36.80" height="19.30" fill="#d4d4d4" stroke="#1a1a1a" stroke-width="1.2"/>
<g opacity="1" filter="url(#bl)" fill="#000"><rect x="493.92" y="420.30" width="10.56" height="3.80"/><ellipse cx="494.80" cy="422.2" rx="2.20" ry="2.50"/><ellipse cx="503.60" cy="422.2" rx="2.20" ry="2.50"/></g>
<g opacity="1" filter="url(#bl)" fill="#000"><rect x="510.82" y="420.30" width="11.16" height="3.80"/><ellipse cx="511.70" cy="422.2" rx="2.20" ry="2.50"/><ellipse cx="521.10" cy="422.2" rx="2.20" ry="2.50"/></g>
<text x="537.8" y="425.5" font-family="Liberation Sans" font-size="9.7" font-weight="bold" fill="#111" text-anchor="start" stroke="#111" stroke-width="0.25" >Actin</text>
<text transform="translate(526.04,288.13) rotate(-42)" x="0" y="0" font-family="Liberation Sans" font-size="9.73" font-weight="bold" fill="#111" text-anchor="end" stroke="#111" stroke-width="0.25" >Control</text>
<text transform="translate(562.53,267.91) rotate(-42)" x="0" y="0" font-family="Liberation Sans" font-size="9.85" font-weight="bold" fill="#111" text-anchor="end" stroke="#111" stroke-width="0.25" >miR--142-3P</text>
</svg>
</body></html>
